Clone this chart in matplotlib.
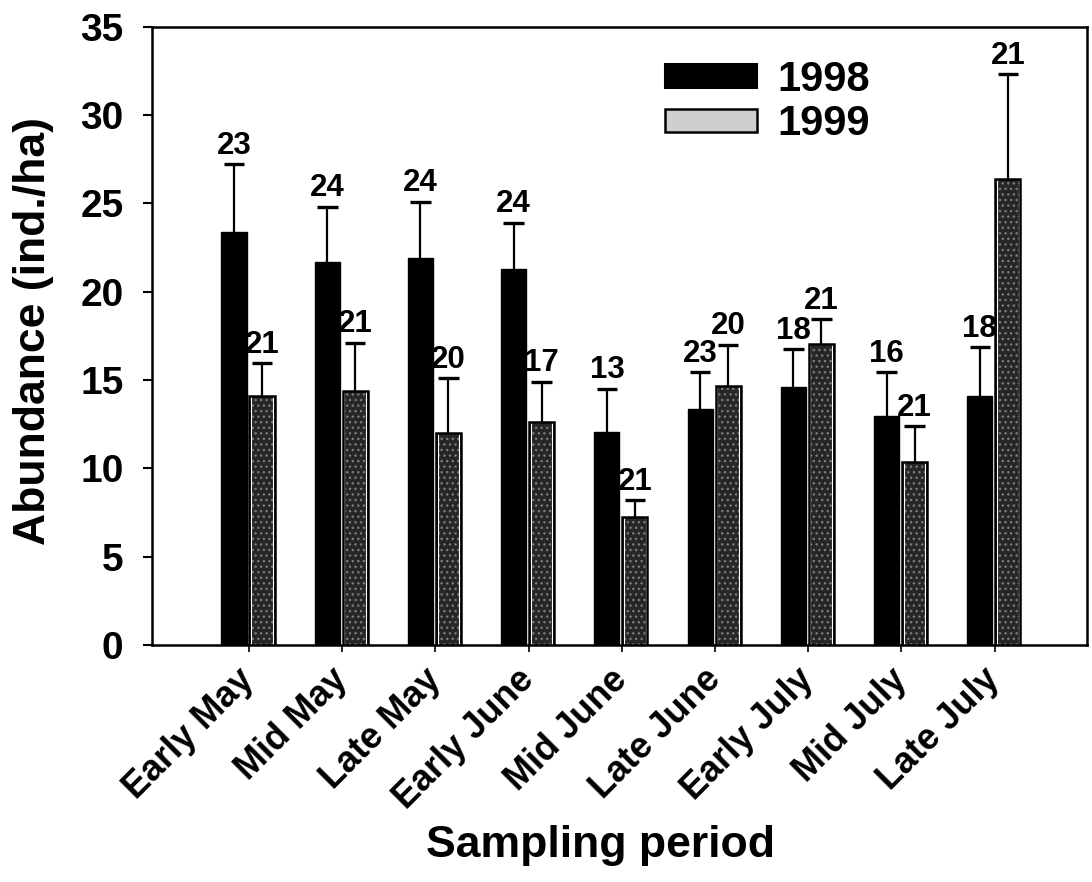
import numpy as np
import matplotlib
matplotlib.use("Agg")
import matplotlib.pyplot as plt
from matplotlib.patches import Patch

# Sampling periods and mean abundance (ind./ha) with standard errors
periods = ["Early May", "Mid May", "Late May", "Early June", "Mid June",
           "Late June", "Early July", "Mid July", "Late July"]

mean_1998 = [23.4, 21.7, 21.9, 21.3, 12.05, 13.35, 14.6, 12.95, 14.1]
se_1998 = [3.8, 3.1, 3.2, 2.6, 2.45, 2.1, 2.15, 2.5, 2.75]
n_1998 = [23, 24, 24, 24, 13, 23, 18, 16, 18]

mean_1999 = [14.1, 14.4, 12.0, 12.6, 7.25, 14.65, 17.05, 10.35, 26.4]
se_1999 = [1.85, 2.7, 3.1, 2.3, 0.95, 2.35, 1.4, 2.05, 5.9]
n_1999 = [21, 21, 20, 17, 21, 20, 21, 21, 21]

years = ["1998", "1999"]
yticks = [0, 5, 10, 15, 20, 25, 30, 35]

plt.rcParams["font.family"] = ["Liberation Sans", "DejaVu Sans"]
plt.rcParams["font.weight"] = "bold"

W, H = 1092, 882
fig = plt.figure(figsize=(W / 100, H / 100), dpi=100)
ax = fig.add_axes([152 / W, 1 - 645 / H, (1087 - 152) / W, (645 - 26.7) / H])

x = np.arange(len(periods))
bw = 0.27
x98 = x - 0.16
x99 = x + 0.14
cap = 0.11

m98 = np.array(mean_1998)
m99 = np.array(mean_1999)
e98 = np.array(se_1998)
e99 = np.array(se_1999)

# 1998: solid black bars
ax.bar(x98, m98, width=bw, color="black", edgecolor="black", linewidth=1, zorder=3)
# 1999: stippled dark grey bars with a black outline
ax.bar(x99, m99, width=bw, color="#262626", edgecolor="#7a7a7a", hatch="...",
       linewidth=0, zorder=3)
ax.bar(x99, m99, width=bw * 0.86, fill=False, edgecolor="white", linewidth=0.8, zorder=4)
ax.bar(x99, m99, width=bw, fill=False, edgecolor="black", linewidth=1.8, zorder=5)

# upward standard-error bars
for xs, m, e in ((x98, m98, e98), (x99, m99, e99)):
    ax.vlines(xs, m, m + e, color="black", linewidth=1.6, zorder=2)
    ax.hlines(m + e, xs - cap, xs + cap, color="black", linewidth=2.4, zorder=2)

# sample sizes above the error bars
for xs, m, e, ns in ((x98, m98, e98, n_1998), (x99, m99, e99, n_1999)):
    for xi, mi, ei, ni in zip(xs, m, e, ns):
        ax.annotate(str(ni), (xi, mi + ei), xytext=(0, 7.5), textcoords="offset points",
                    ha="center", va="baseline", fontsize=22.5, fontweight="bold")

ax.set_xlim(-1.04, 8.99)
ax.set_ylim(0, 35)
ax.set_yticks(yticks)
ax.set_yticklabels([str(t) for t in yticks], fontsize=28, fontweight="bold")
ax.set_xticks(x)
ax.set_xticklabels(periods, rotation=45, ha="right", va="center",
                   rotation_mode="anchor", fontsize=26, fontweight="bold")
ax.tick_params(axis="y", direction="out", length=6.5, width=1.5, pad=14)
ax.tick_params(axis="x", direction="out", length=5, width=1.2, pad=16)
for s in ax.spines.values():
    s.set_linewidth(1.8)

fig.text(34 / W, 1 - 331 / H, "Abundance (ind./ha)", rotation=90, ha="center",
         va="center", fontsize=32, fontweight="bold")
fig.text(600 / W, 1 - 857 / H, "Sampling period", ha="center", va="baseline",
         fontsize=32, fontweight="bold")

handles = [Patch(facecolor="black", edgecolor="black", linewidth=1.5),
           Patch(facecolor="#cfcfcf", edgecolor="black", linewidth=1.8)]
fig.legend(handles, years, loc="upper left", bbox_to_anchor=(665 / W, 1 - 60 / H),
           frameon=False, handlelength=2.2, handleheight=0.5,
           handletextpad=0.5, labelspacing=0.1, borderpad=0, borderaxespad=0,
           prop={"size": 30, "weight": "bold"})

fig.savefig("out.png", dpi=100)
